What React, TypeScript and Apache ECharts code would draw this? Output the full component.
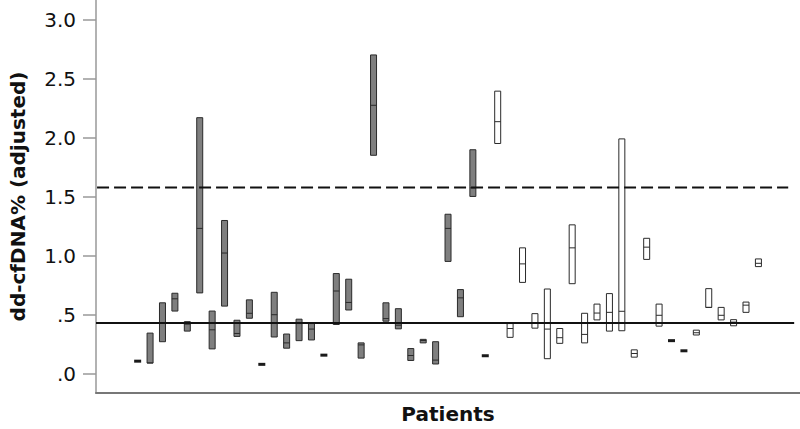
import React, { useEffect, useRef } from "react";
import * as echarts from "echarts";

// Patient ranges: low, median, high of dd-cfDNA% (adjusted)
const patients = Array.from({ length: 51 }, (_, i) => i + 1);
const lows = [
  0.105, 0.089, 0.27, 0.53, 0.36, 0.684, 0.209, 0.572, 0.315, 0.469,
  0.078, 0.31, 0.215, 0.279, 0.285, 0.156, 0.416, 0.539, 0.131, 1.851,
  0.444, 0.379, 0.111, 0.26, 0.081, 0.951, 0.482, 1.502, 0.151,
  1.951, 0.307, 0.773, 0.385, 0.126, 0.256, 0.762, 0.26, 0.455, 0.36,
  0.363, 0.139, 0.968, 0.402, 0.279, 0.193, 0.327, 0.561, 0.455, 0.405,
  0.519, 0.907,
];
const medians = [
  0.105, 0.09, 0.427, 0.634, 0.419, 1.231, 0.371, 1.022, 0.34, 0.511,
  0.078, 0.499, 0.26, 0.424, 0.377, 0.156, 0.7, 0.603, 0.243, 2.275,
  0.466, 0.41, 0.153, 0.28, 0.114, 1.231, 0.642, 1.575, 0.151,
  2.136, 0.382, 0.93, 0.43, 0.377, 0.304, 1.066, 0.332, 0.513, 0.519,
  0.528, 0.17, 1.072, 0.494, 0.279, 0.193, 0.346, 0.561, 0.494, 0.436,
  0.58, 0.935,
];
const highs = [
  0.105, 0.343, 0.6, 0.681, 0.44, 2.17, 0.53, 1.298, 0.452, 0.625,
  0.078, 0.689, 0.335, 0.461, 0.424, 0.156, 0.848, 0.8, 0.26, 2.702,
  0.6, 0.55, 0.212, 0.29, 0.27, 1.351, 0.712, 1.898, 0.151,
  2.395, 0.424, 1.066, 0.508, 0.717, 0.382, 1.261, 0.511, 0.589, 0.678,
  1.99, 0.201, 1.147, 0.589, 0.279, 0.193, 0.368, 0.72, 0.561, 0.457,
  0.606, 0.972,
];
// 0 = grey group, 1 = white group
const groups = [
  0, 0, 0, 0, 0, 0, 0, 0, 0, 0, 0, 0, 0, 0, 0, 0, 0, 0, 0, 0, 0, 0, 0, 0, 0, 0, 0, 0, 0,
  1, 1, 1, 1, 1, 1, 1, 1, 1, 1, 1, 1, 1, 1, 1, 1, 1, 1, 1, 1, 1, 1,
];

const tickValues = [0, 0.5, 1.0, 1.5, 2.0, 2.5, 3.0];
const tickLabels = [".0", ".5", "1.0", "1.5", "2.0", "2.5", "3.0"];

const upperCutoff = [1.577];
const lowerCutoff = [0.428];

const X_MIN = -2.355;
const X_MAX = 54.35;

export default function App() {
  const ref = useRef<HTMLDivElement>(null);
  useEffect(() => {
    if (!ref.current) return;
    const chart = echarts.init(ref.current, null, { renderer: "svg" });
    const data = patients.map((p, i) => [p, lows[i], medians[i], highs[i], groups[i]]);
    const option: any = {
      animation: false,
      backgroundColor: "#fff",
      grid: { left: 90, right: 0, top: 0, bottom: 31, containLabel: false },
      xAxis: {
        type: "value",
        min: X_MIN,
        max: X_MAX,
        name: "Patients",
        nameLocation: "middle",
        nameGap: 11,
        nameTextStyle: {
          fontFamily: "DejaVu Sans",
          fontWeight: "bold",
          fontSize: 20,
          color: "#111",
          verticalAlign: "top",
        },
        axisLine: { show: true, onZero: false, lineStyle: { color: "#777", width: 2 } },
        axisTick: { show: false },
        axisLabel: { show: false },
        splitLine: { show: false },
      },
      yAxis: {
        type: "value",
        min: -0.165,
        max: 3.168,
        name: "dd-cfDNA% (adjusted)",
        nameLocation: "middle",
        nameGap: 68,
        nameTextStyle: {
          fontFamily: "DejaVu Sans",
          fontWeight: "bold",
          fontSize: 20,
          color: "#111",
        },
        axisLine: { show: true, onZero: false, lineStyle: { color: "#999", width: 1.5 } },
        axisTick: {
          show: true,
          length: 13,
          inside: false,
          customValues: tickValues,
          lineStyle: { color: "#999", width: 1.5 },
        },
        axisLabel: {
          show: true,
          margin: 20,
          customValues: tickValues,
          fontFamily: "DejaVu Sans",
          fontSize: 20,
          color: "#111",
          formatter: (v: number) => {
            const idx = tickValues.findIndex((t) => Math.abs(t - v) < 1e-6);
            return idx >= 0 ? tickLabels[idx] : "";
          },
        },
        splitLine: { show: false },
      },
      series: [
        {
          type: "custom",
          z: 2,
          data,
          encode: { x: 0, y: [1, 2, 3] },
          renderItem: (params: any, api: any) => {
            const x = api.value(0);
            const lo = api.value(1);
            const med = api.value(2);
            const hi = api.value(3);
            const g = api.value(4);
            const pLo = api.coord([x, lo]);
            const pHi = api.coord([x, hi]);
            const pMed = api.coord([x, med]);
            const w = 6;
            if (hi - lo < 0.005) {
              return {
                type: "rect",
                shape: { x: pLo[0] - 3.5, y: pLo[1] - 1.5, width: 7, height: 3 },
                style: { fill: "#1a1a1a" },
              };
            }
            return {
              type: "group",
              children: [
                {
                  type: "rect",
                  shape: { x: pLo[0] - w / 2, y: pHi[1], width: w, height: pLo[1] - pHi[1] },
                  style: { fill: g === 0 ? "#7f7f7f" : "#ffffff", stroke: "#2a2a2a", lineWidth: 1 },
                },
                {
                  type: "line",
                  shape: { x1: pLo[0] - w / 2, y1: pMed[1], x2: pLo[0] + w / 2, y2: pMed[1] },
                  style: { stroke: "#2a2a2a", lineWidth: 1 },
                },
              ],
            };
          },
        },
        {
          type: "line",
          z: 5,
          symbol: "none",
          silent: true,
          data: [
            [-2.27, upperCutoff[0]],
            [53.4, upperCutoff[0]],
          ],
          lineStyle: { color: "#111", width: 2, type: [12, 5] },
        },
        {
          type: "line",
          z: 5,
          symbol: "none",
          silent: true,
          data: [
            [X_MIN, lowerCutoff[0]],
            [53.88, lowerCutoff[0]],
          ],
          lineStyle: { color: "#111", width: 2 },
        },
      ],
    };
    chart.setOption(option);
    return () => chart.dispose();
  }, []);
  return (
    <div
      ref={ref}
      style={{ position: "absolute", left: 0, top: 0, width: 800, height: 429 }}
    />
  );
}
